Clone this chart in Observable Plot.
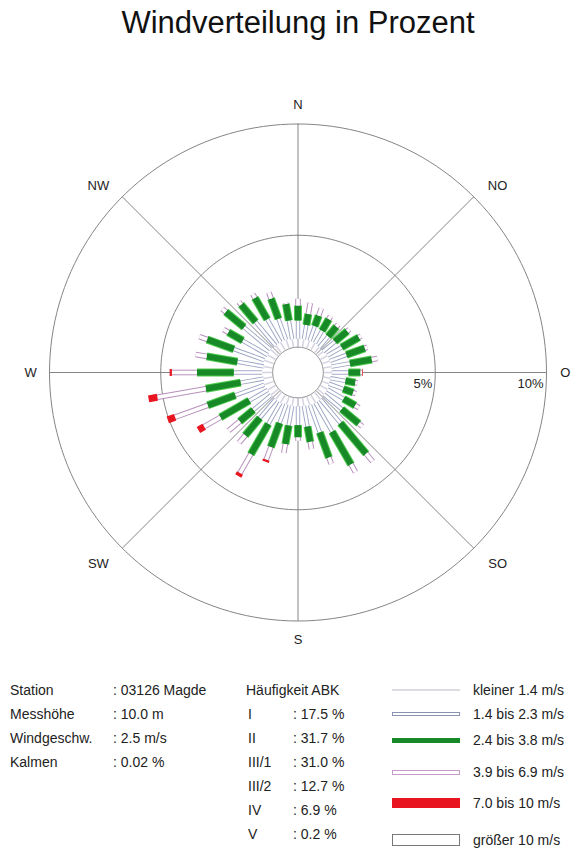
<!DOCTYPE html>
<html><head><meta charset="utf-8">
<script src="https://cdn.jsdelivr.net/npm/d3@7"></script>
<script src="https://cdn.jsdelivr.net/npm/@observablehq/plot@0.6"></script>
<style>
body{margin:0;background:#fff;font-family:"Liberation Sans",Arial,sans-serif;}
#wrap{position:relative;width:576px;height:852px;overflow:hidden;background:#fff}
#title{position:absolute;top:7px;left:0;width:596px;text-align:center;font-size:31px;line-height:31px;color:#111}
#chart{position:absolute;top:60px;left:0}
.lg{position:absolute;font-size:14px;line-height:16px;color:#222;white-space:nowrap}
.sw{position:absolute;box-sizing:border-box}
</style></head><body>
<div id="wrap">
<div id="title">Windverteilung in Prozent</div>
<div id="chart"></div>
<div id="legend"></div>
</div>
<script>
// ---- data ----
const directions = [10,20,30,40,50,60,70,80,90,100,110,120,130,140,150,160,170,180,190,200,210,220,230,240,250,260,270,280,290,300,310,320,330,340,350,360];
const cls1 = [.35,.35,.35,.3,.3,.35,.35,.35,.35,.3,.3,.35,.35,.4,.4,.4,.35,.35,.35,.35,.4,.4,.4,.4,.45,.4,.45,.4,.45,.4,.45,.4,.4,.4,.35,.35];
const cls2 = [.65,.7,.65,.65,.7,.75,.8,.85,.75,.7,.7,.85,1.05,1.4,1.5,1.3,.95,.85,.9,.9,1.1,1.1,1.05,.96,1.38,1.05,1.27,1.2,1.45,1.3,1.55,1.4,1.2,1.0,.85,.82];
const cls3 = [.5,.5,.6,.57,.72,.89,.88,1.0,.54,.45,.47,.6,1.0,1.8,1.7,1.2,.7,.55,.85,1.15,1.57,1.02,.8,1.5,1.32,1.59,1.65,1.4,1.28,.75,1.07,1.01,1.1,.97,.76,.67];
const cls4 = [.5,.35,.15,.13,.13,.11,.12,.25,.08,.1,.13,.2,.2,.45,.4,.3,.32,.15,.4,.6,.98,.43,.65,.84,1.56,2.21,1.13,.5,.37,.25,.21,.16,.2,.29,.04,.31];
const cls5 = [0,0,0,0,0,0,0,0,.03,0,0,0,0,0,0,0,0,0,0,.1,.15,0,0,.3,.35,.4,.1,0,0,0,0,0,0,0,0,0];
const cls6 = [0,0,0,0,0,0,0,0,0,0,0,0,0,0,0,0,0,0,0,0,0,0,0,0,0,0,0,0,0,0,0,0,0,0,0,0];
const classNames = ["kleiner 1.4 m/s","1.4 bis 2.3 m/s","2.4 bis 3.8 m/s","3.9 bis 6.9 m/s","7.0 bis 10 m/s","größer 10 m/s"];
const compassLabels = ["N","NO","O","SO","S","SW","W","NW"];
const compassAngles = [0,45,90,135,180,225,270,315];
const ringValues = [5,10];
const ringLabels = ["5%","10%"];
const stationKeys = ["Station","Messhöhe","Windgeschw.","Kalmen"];
const stationVals = [": 03126 Magde",": 10.0 m",": 2.5 m/s",": 0.02 %"];
const abkTitle = "Häufigkeit ABK";
const abkKeys = ["I","II","III/1","III/2","IV","V"];
const abkVals = [": 17.5 %",": 31.7 %",": 31.0 %",": 12.7 %",": 6.9 %",": 0.2 %"];

// ---- geometry ----
const W = 576, H = 610, cx = 297.5, cy = 312, k = 22.25; // px per percent
const r0 = 26 / k; // calm circle offset
const rad = d => d * Math.PI / 180;
const pt = (r, a) => [r * Math.sin(rad(a)), r * Math.cos(rad(a))];

const series = [cls1, cls2, cls3, cls4, cls5, cls6];
const styles = [
  [["#d6d2e2", 1.5]],
  [["#9ba3c2", 4.4], ["#ffffff", 2.6]],
  [["#4cc94c", 8], ["#178a27", 6]],
  [["#b890bc", 5.6], ["#ffffff", 3.6]],
  [["#e8141f", 7]],
  [["#777777", 8], ["#ffffff", 6]]
];
const segs = series.map(() => []);
directions.forEach((d, i) => {
  let c = 0;
  series.forEach((s, j) => {
    const v = s[i];
    if (v > 0) {
      const [x1, y1] = pt(r0 + c, d), [x2, y2] = pt(r0 + c + v, d);
      segs[j].push({x1, y1, x2, y2});
    }
    c += v;
  });
});

const rings = [];
[0, ...ringValues].forEach(v => {
  const r = v === 0 ? r0 - 0.03 : r0 + v;
  d3.range(0, 361, 2).forEach(a => { const [x, y] = pt(r, a); rings.push({ring: v, x, y}); });
});
const spokes = compassAngles.map(a => { const [x1, y1] = pt(r0, a), [x2, y2] = pt(r0 + 10, a); return {x1, y1, x2, y2}; });
const compass = compassLabels.map((t, i) => {
  const a = compassAngles[i];
  const diag = a % 90 !== 0;
  const r = r0 + 10 + (diag ? 1.2 : 0.85);
  const [x, y] = pt(r, a);
  const sx = Math.sign(Math.round(Math.sin(rad(a)) * 100));
  const north = Math.cos(rad(a)) > 0.1;
  return {t, x, y, dx: diag ? sx * 5 : 0, dy: diag ? (north ? 8 : -3) : 0};
});
const ringText = ringValues.map((v, i) => ({x: r0 + v, y: 0, t: ringLabels[i]}));

const marks = [
  Plot.line(rings, {x: "x", y: "y", z: "ring", stroke: "#858585", strokeWidth: 1}),
  Plot.link(spokes, {x1: "x1", y1: "y1", x2: "x2", y2: "y2", stroke: "#858585", strokeWidth: 1})
];
segs.forEach((rows, j) => {
  styles[j].forEach(([col, w]) => {
    marks.push(Plot.link(rows, {x1: "x1", y1: "y1", x2: "x2", y2: "y2", stroke: col, strokeWidth: w, strokeLinecap: "butt"}));
  });
});
compass.forEach(c => marks.push(Plot.text([c], {x: "x", y: "y", text: "t", fontSize: 13, fill: "#222", dx: c.dx, dy: c.dy})));
marks.push(Plot.text(ringText, {x: "x", y: "y", text: "t", fontSize: 13, fill: "#222", textAnchor: "end", dx: -3, dy: 11}));

const chart = Plot.plot({
  width: W, height: H,
  marginTop: 0, marginRight: 0, marginBottom: 0, marginLeft: 0,
  x: {axis: null, domain: [-cx / k, (W - cx) / k], range: [0, W]},
  y: {axis: null, domain: [-(H - cy) / k, cy / k], range: [H, 0]},
  style: {fontFamily: '"Liberation Sans", Arial, sans-serif', background: "#fff"},
  marks
});
document.getElementById("chart").appendChild(chart);

// ---- legend (HTML below the chart) ----
const lg = document.getElementById("legend");
function txt(s, x, y) { const e = document.createElement("div"); e.className = "lg"; e.textContent = s; e.style.left = x + "px"; e.style.top = (y - 8) + "px"; lg.appendChild(e); }
function sw(x, y, w, h, css) { const e = document.createElement("div"); e.className = "sw"; e.style.left = x + "px"; e.style.top = (y - h / 2) + "px"; e.style.width = w + "px"; e.style.height = h + "px"; e.style.cssText += css; lg.appendChild(e); }
const rowY = [690, 714, 738, 762, 786, 810, 834];
stationKeys.forEach((s, i) => { txt(s, 10, rowY[i]); txt(stationVals[i], 113, rowY[i]); });
txt(abkTitle, 246, rowY[0]);
abkKeys.forEach((s, i) => { txt(s, 248, rowY[i + 1]); txt(abkVals[i], 293, rowY[i + 1]); });
const lgY = [690, 714, 740, 772, 803, 840];
classNames.forEach((s, i) => txt(s, 473, lgY[i]));
sw(392, lgY[0], 68, 2, "background:#dcdce2;");
sw(392, lgY[1], 68, 4, "border:1px solid #8a93b4;background:#fff;");
sw(392, lgY[2], 68, 5, "background:#178a27;");
sw(392, lgY[3], 68, 5, "border:1px solid #c79ac7;background:#fff;");
sw(392, lgY[4], 68, 10, "background:#e8141f;");
sw(392, lgY[5], 68, 12, "border:1px solid #777;background:#fff;");
</script>
</body></html>
